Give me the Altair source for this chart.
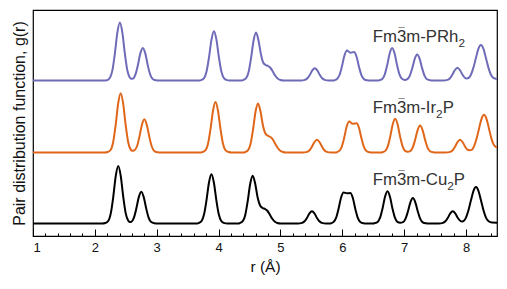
import altair as alt
import pandas as pd

# ---- data (r in Å, g in arbitrary units, before offset) ----
prh2_pts = [(1.0,0),(2.15,0),(2.194,0.03),(2.244,0.28),(2.284,1.04),(2.324,2.73),(2.364,4.81),(2.404,5.80),(2.444,4.81),(2.484,2.73),(2.524,1.04),(2.564,0.30),(2.59,0.17),(2.615,0.19),
    (2.655,0.59),(2.695,1.53),(2.735,2.71),(2.775,3.26),(2.815,2.71),(2.855,1.53),(2.895,0.59),(2.935,0.16),(2.985,0.03),(3.05,0),
    (3.70,0),(3.715,0.04),(3.765,0.24),(3.805,0.89),(3.845,2.32),(3.885,4.09),(3.925,4.93),(3.965,4.09),(4.005,2.32),(4.045,0.89),(4.085,0.24),(4.135,0.04),(4.18,0),
    (4.38,0),(4.395,0.04),(4.445,0.23),(4.485,0.86),(4.525,2.26),(4.565,3.98),(4.605,4.80),(4.645,4.0),(4.685,2.6),(4.72,1.8),(4.76,1.55),(4.80,1.45),(4.84,1.25),(4.88,0.85),(4.92,0.45),(4.96,0.18),(5.0,0.05),(5.05,0),
    (5.33,0),(5.395,0.06),(5.435,0.22),(5.475,0.57),(5.515,1.01),(5.555,1.22),(5.595,1.01),(5.635,0.57),(5.675,0.22),(5.715,0.06),(5.78,0),
    (5.85,0),(5.874,0.03),(5.914,0.15),(5.954,0.55),(5.994,1.42),(6.034,2.5),(6.074,3.0),(6.13,2.78),(6.19,2.85),(6.23,2.38),(6.27,1.35),(6.31,0.52),(6.35,0.14),(6.40,0.02),(6.45,0),
    (6.58,0),(6.60,0.03),(6.645,0.16),(6.685,0.59),(6.725,1.53),(6.765,2.70),(6.805,3.25),(6.845,2.70),(6.885,1.53),(6.925,0.59),(6.965,0.17),(7.01,0.06),
    (7.05,0.14),(7.09,0.47),(7.13,1.22),(7.17,2.16),(7.21,2.6),(7.25,2.16),(7.29,1.22),(7.33,0.47),(7.37,0.125),(7.42,0.02),(7.47,0),
    (7.63,0),(7.70,0.06),(7.74,0.23),(7.78,0.60),(7.82,1.05),(7.86,1.27),(7.90,1.05),(7.94,0.60),(7.98,0.28),(8.01,0.21),
    (8.04,0.25),(8.08,0.60),(8.12,1.31),(8.16,2.27),(8.20,3.18),(8.24,3.55),(8.28,3.18),(8.32,2.27),(8.36,1.31),(8.40,0.60),(8.44,0.27),(8.5,0.16)]

ir2p_pts = [(1.0,0),(2.16,0),(2.207,0.05),(2.257,0.28),(2.297,1.07),(2.337,2.79),(2.377,4.92),(2.417,5.93),(2.457,4.92),(2.497,2.79),(2.537,1.07),(2.577,0.31),(2.605,0.17),(2.63,0.2),
    (2.68,0.60),(2.72,1.57),(2.76,2.76),(2.80,3.33),(2.84,2.76),(2.88,1.57),(2.92,0.60),(2.96,0.16),(3.01,0.03),(3.07,0),
    (3.72,0),(3.74,0.05),(3.79,0.24),(3.83,0.91),(3.87,2.37),(3.91,4.18),(3.95,5.04),(3.99,4.18),(4.03,2.37),(4.07,0.91),(4.11,0.24),(4.16,0.05),(4.21,0),
    (4.41,0),(4.427,0.04),(4.477,0.235),(4.517,0.88),(4.557,2.30),(4.597,4.07),(4.637,4.90),(4.677,4.1),(4.717,2.7),(4.757,1.9),(4.797,1.68),(4.837,1.55),(4.877,1.3),(4.917,0.85),(4.957,0.45),(4.997,0.18),(5.04,0.05),(5.09,0),
    (5.36,0),(5.43,0.06),(5.47,0.23),(5.51,0.60),(5.55,1.05),(5.59,1.27),(5.63,1.05),(5.67,0.60),(5.71,0.23),(5.75,0.06),(5.82,0),
    (5.88,0),(5.91,0.03),(5.95,0.16),(5.99,0.57),(6.03,1.47),(6.07,2.6),(6.11,3.1),(6.17,2.87),(6.23,2.92),(6.27,2.45),(6.31,1.4),(6.35,0.54),(6.39,0.15),(6.44,0.02),(6.49,0),
    (6.63,0),(6.65,0.03),(6.694,0.16),(6.734,0.61),(6.774,1.58),(6.814,2.80),(6.854,3.37),(6.894,2.80),(6.934,1.58),(6.974,0.61),(7.014,0.17),(7.057,0.08),
    (7.097,0.14),(7.137,0.49),(7.177,1.27),(7.217,2.24),(7.257,2.7),(7.297,2.24),(7.337,1.27),(7.377,0.49),(7.417,0.13),(7.467,0.02),(7.52,0),
    (7.67,0),(7.743,0.06),(7.783,0.23),(7.823,0.60),(7.863,1.05),(7.903,1.27),(7.943,1.05),(7.983,0.60),(8.023,0.28),(8.055,0.22),
    (8.09,0.26),(8.13,0.64),(8.17,1.39),(8.21,2.41),(8.25,3.37),(8.29,3.77),(8.33,3.37),(8.37,2.41),(8.41,1.39),(8.45,0.75),(8.5,0.5)]

cu2p_pts = [(1.0,0),(2.12,0),(2.168,0.05),(2.218,0.28),(2.258,1.04),(2.298,2.70),(2.338,4.77),(2.378,5.75),(2.418,4.77),(2.458,2.70),(2.498,1.04),(2.538,0.30),(2.565,0.16),(2.59,0.18),
    (2.63,0.57),(2.67,1.49),(2.71,2.64),(2.75,3.18),(2.79,2.64),(2.83,1.49),(2.87,0.57),(2.91,0.15),(2.96,0.03),(3.02,0),
    (3.66,0),(3.674,0.04),(3.724,0.24),(3.764,0.89),(3.804,2.31),(3.844,4.08),(3.884,4.92),(3.924,4.08),(3.964,2.31),(4.004,0.89),(4.044,0.24),(4.094,0.04),(4.14,0),
    (4.32,0),(4.341,0.04),(4.391,0.23),(4.431,0.86),(4.471,2.25),(4.511,3.97),(4.551,4.78),(4.591,4.0),(4.631,2.6),(4.671,1.8),(4.711,1.55),(4.751,1.45),(4.791,1.25),(4.831,0.85),(4.871,0.45),(4.911,0.18),(4.95,0.05),(5.0,0),
    (5.28,0),(5.349,0.06),(5.389,0.22),(5.429,0.57),(5.469,1.01),(5.509,1.22),(5.549,1.01),(5.589,0.57),(5.629,0.22),(5.669,0.06),(5.74,0),
    (5.79,0),(5.82,0.03),(5.86,0.16),(5.90,0.58),(5.94,1.5),(5.98,2.6),(6.02,3.1),(6.075,3.02),(6.13,3.05),(6.17,2.55),(6.21,1.45),(6.25,0.56),(6.29,0.15),(6.34,0.02),(6.39,0),
    (6.50,0),(6.52,0.03),(6.57,0.155),(6.61,0.58),(6.65,1.51),(6.69,2.67),(6.73,3.22),(6.77,2.67),(6.81,1.51),(6.85,0.58),(6.89,0.16),(6.935,0.07),
    (6.98,0.13),(7.02,0.46),(7.06,1.20),(7.10,2.12),(7.14,2.55),(7.18,2.12),(7.22,1.20),(7.26,0.46),(7.30,0.12),(7.35,0.02),(7.40,0),
    (7.56,0),(7.625,0.06),(7.665,0.22),(7.705,0.57),(7.745,1.01),(7.785,1.22),(7.825,1.01),(7.865,0.57),(7.905,0.27),(7.935,0.2),
    (7.965,0.28),(8.00,0.62),(8.04,1.35),(8.08,2.34),(8.12,3.27),(8.16,3.65),(8.20,3.27),(8.24,2.34),(8.28,1.35),(8.32,0.62),(8.36,0.25),(8.42,0.09),(8.5,0.08)]

phases = ["PRh2", "Ir2P", "Cu2P"]
phase_offsets = [14.3, 7.1, 0.0]
phase_colors = ["#6e6bb8", "#e0661a", "#000000"]

# label pieces: (text, kind) with kind main / sub / bar (overbar on the 3)
label_parts = [
    [("Fm", "main"), ("\u00af", "bar"), ("3m-PRh", "main"), ("2", "sub")],
    [("Fm", "main"), ("\u00af", "bar"), ("3m-Ir", "main"), ("2", "sub"), ("P", "main")],
    [("Fm", "main"), ("\u00af", "bar"), ("3m-Cu", "main"), ("2", "sub"), ("P", "main")],
]
label_r = [6.49, 6.49, 6.49]
label_g = [18.15, 11.02, 3.85]

major_ticks = [1, 2, 3, 4, 5, 6, 7, 8]
minor_ticks = [1.2, 1.4, 1.6, 1.8, 2.2, 2.4, 2.6, 2.8, 3.2, 3.4, 3.6, 3.8, 4.2, 4.4, 4.6, 4.8,
               5.2, 5.4, 5.6, 5.8, 6.2, 6.4, 6.6, 6.8, 7.2, 7.4, 7.6, 7.8, 8.2, 8.4]

# ---- build table ----
rows = []
for name, off, pts in zip(phases, phase_offsets, [prh2_pts, ir2p_pts, cu2p_pts]):
    for r, g in pts:
        rows.append({"phase": name, "r": r, "g": g + off})
df = pd.DataFrame(rows)

FONT = "Liberation Sans"
MAIN_FS, SUB_FS, BAR_FS = 16.8, 11.8, 11.0
# Arial / Liberation Sans advance widths (per 1000 em) for laying out the label pieces
ADV = {"F": 611, "m": 833, "3": 556, "-": 333, "P": 667, "R": 722, "h": 556,
       "I": 278, "r": 333, "C": 722, "u": 556, "2": 556}

xscale = alt.Scale(domain=[1, 8.5], nice=False, zero=False)
yscale = alt.Scale(domain=[-1.25, 21.35], nice=False, zero=False)
yaxis = alt.Axis(title="Pair distribution function, g(r)", labels=False, ticks=False,
                 domain=False, grid=False, titleFontSize=16, titleFont=FONT,
                 titleFontWeight="normal", titleColor="#111", titlePadding=6)

lines = alt.Chart(df).mark_line(strokeWidth=2, interpolate="monotone", clip=True).encode(
    x=alt.X("r:Q", scale=xscale,
            axis=alt.Axis(orient="bottom", values=major_ticks, tickSize=7, offset=-7,
                          domain=False, grid=False, tickColor="black", tickWidth=1,
                          labelFontSize=13, labelFont=FONT, labelColor="#111",
                          labelPadding=5, format="d", title="r (Å)", titleFontSize=15.5,
                          titleFont=FONT, titleFontWeight="normal", titleColor="#111",
                          titlePadding=5)),
    y=alt.Y("g:Q", scale=yscale, axis=yaxis),
    color=alt.Color("phase:N", scale=alt.Scale(domain=phases, range=phase_colors), legend=None),
    detail="phase:N",
)

minor = alt.Chart(df).mark_line(opacity=0).encode(
    x=alt.X("r:Q", scale=xscale,
            axis=alt.Axis(orient="bottom", values=minor_ticks, tickSize=3, offset=-3,
                          domain=False, grid=False, labels=False, title=None,
                          tickColor="black", tickWidth=1)),
    y=alt.Y("g:Q", scale=yscale, axis=yaxis),
    detail="phase:N",
)

text_layers = []
for parts, lr, lg in zip(label_parts, label_r, label_g):
    pen = 0.0
    for txt, kind in parts:
        row = pd.DataFrame({"label": [txt], "r": [lr], "g": [lg]})
        if kind == "main":
            fs, dx, dy = MAIN_FS, pen, 0
            pen += sum(ADV[c] for c in txt) * MAIN_FS / 1000
        elif kind == "sub":
            fs, dx, dy = SUB_FS, pen, 4.5
            pen += sum(ADV[c] for c in txt) * SUB_FS / 1000
        else:  # overbar centred on the following "3"
            fs = BAR_FS
            dx = pen + ADV["3"] * MAIN_FS / 2000 - 556 * BAR_FS / 2000
            dy = -6.3
        text_layers.append(
            alt.Chart(row).mark_text(align="left", baseline="alphabetic", fontSize=fs,
                                     font=FONT, color="#333", dx=dx, dy=dy).encode(
                x=alt.X("r:Q", scale=xscale, axis=None),
                y=alt.Y("g:Q", scale=yscale, axis=yaxis),
                text="label:N",
            )
        )

chart = alt.layer(minor, lines, *text_layers).resolve_axis(x="independent").properties(
    width=464, height=226,
    autosize=alt.AutoSizeParams(type="none"),
    padding={"left": 25, "top": 2, "right": 2, "bottom": 45},
).configure_view(stroke="black", strokeWidth=1.2)

chart.save("out.html", embed_options={"renderer": "svg", "actions": False})
